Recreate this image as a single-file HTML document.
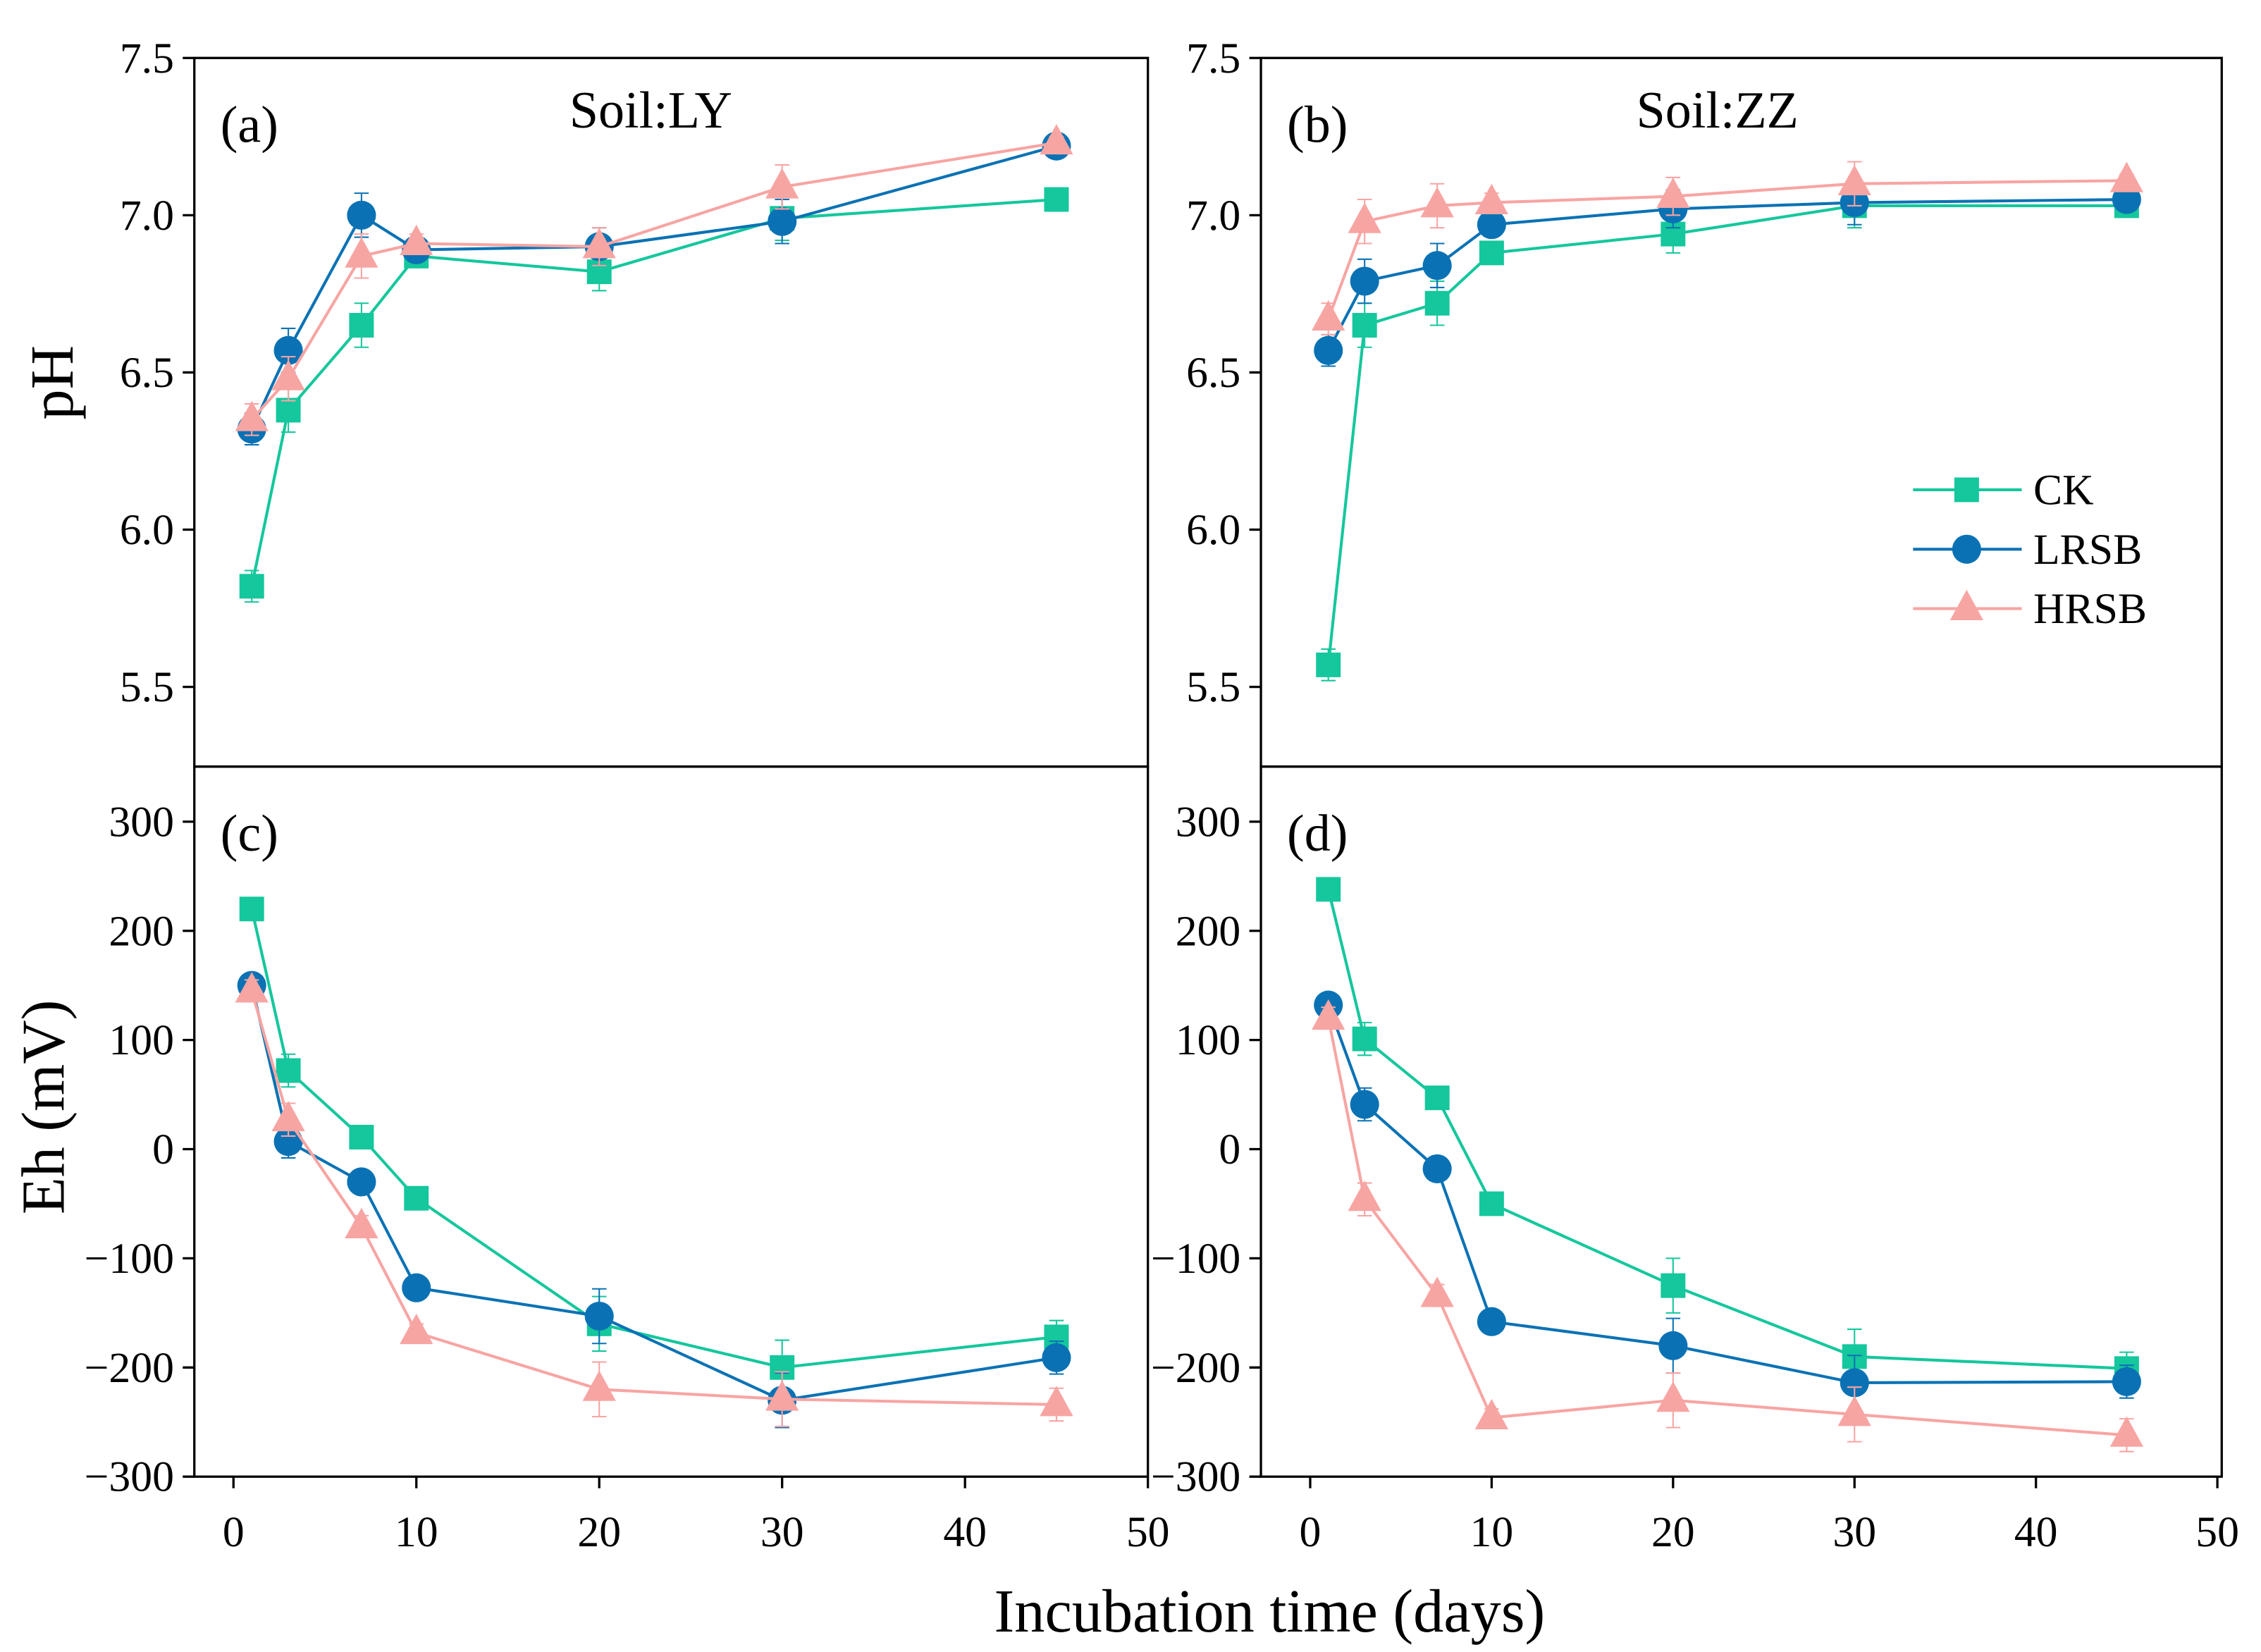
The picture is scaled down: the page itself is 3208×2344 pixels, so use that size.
<!DOCTYPE html>
<html><head><meta charset="utf-8"><style>
html,body{margin:0;padding:0;background:#fff;}
svg{display:block;font-family:"Liberation Serif",serif;}
</style></head><body>
<svg id="chart" width="3208" height="2344" viewBox="0 0 1560 1140" xmlns="http://www.w3.org/2000/svg"></svg>
<script>
const days = [1, 3, 7, 10, 20, 30, 45];
const seriesNames = ["CK", "LRSB", "HRSB"];
const phLY_CK = [5.82, 6.38, 6.65, 6.87, 6.82, 6.99, 7.05];
const phLY_LRSB = [6.32, 6.57, 7.00, 6.89, 6.90, 6.98, 7.22];
const phLY_HRSB = [6.35, 6.48, 6.87, 6.91, 6.90, 7.09, 7.23];
const phZZ_CK = [5.57, 6.65, 6.72, 6.88, 6.94, 7.03, 7.03];
const phZZ_LRSB = [6.57, 6.79, 6.84, 6.97, 7.02, 7.04, 7.05];
const phZZ_HRSB = [6.67, 6.98, 7.03, 7.04, 7.06, 7.10, 7.11];
const ehLY_CK = [220, 72, 11, -45, -160, -200, -172];
const ehLY_LRSB = [150, 7, -30, -127, -153, -230, -191];
const ehLY_HRSB = [145, 27, -71, -168, -220, -229, -234];
const ehZZ_CK = [238, 101, 47, -50, -125, -190, -201];
const ehZZ_LRSB = [132, 41, -18, -158, -180, -214, -213];
const ehZZ_HRSB = [120, -46, -134, -246, -230, -243, -262];
const phErr = [0.05, 0.07, 0.07, 0.03, 0.06, 0.07, 0.02];
const ehErr = [10, 15, 10, 8, 25, 25, 15];
const phTicks = [5.5, 6.0, 6.5, 7.0, 7.5];
const phTickLabels = ["5.5", "6.0", "6.5", "7.0", "7.5"];
const ehTicks = [-300, -200, -100, 0, 100, 200, 300];
const ehTickLabels = ["\u2212300", "\u2212200", "\u2212100", "0", "100", "200", "300"];
const xTicks = [0, 10, 20, 30, 40, 50];
const xTickLabels = ["0", "10", "20", "30", "40", "50"];

const NS = "http://www.w3.org/2000/svg";
const svg = document.getElementById("chart");
const colors = {CK: "#14c79c", LRSB: "#0a72b4", HRSB: "#f7a5a3"};
function mk(tag, attrs, parent) {
  const e = document.createElementNS(NS, tag);
  for (const k in attrs) e.setAttribute(k, attrs[k]);
  (parent || svg).appendChild(e);
  return e;
}
function marker(g, name, x, y) {
  let m;
  if (name === "CK") m = mk("rect", {x: x - 8.5, y: y - 8.5, width: 17, height: 17, fill: colors.CK}, g);
  else if (name === "LRSB") m = mk("circle", {cx: x, cy: y, r: 10, fill: colors.LRSB}, g);
  else m = mk("polygon", {points: `${x},${y - 13} ${x - 11.5},${y + 8} ${x + 11.5},${y + 8}`, fill: colors.HRSB}, g);
  
  
}
function panel(cfg) {
  const {L, R, T, B, x0, xs, yfn, series, errs, yTicks, yLabels, showX, label, title, pname} = cfg;
  const g = mk("g", {});
  
  
  const X = d => x0 + d * xs;
  const fr = mk("rect", {x: L, y: T, width: R - L, height: B - T, fill: "none", stroke: "#000", "stroke-width": 1.6}, g);
  
  
  yTicks.forEach((v, i) => {
    const y = yfn(v);
    mk("line", {x1: L - 8, x2: L, y1: y, y2: y, stroke: "#000", "stroke-width": 1.6}, g);
    const t = mk("text", {x: L - 14, y: y + 10, "text-anchor": "end", "font-size": 30}, g);
    t.textContent = yLabels[i];
    
    
  });
  if (showX) xTicks.forEach((v, i) => {
    const x = X(v);
    mk("line", {x1: x, x2: x, y1: B, y2: B + 8, stroke: "#000", "stroke-width": 1.6}, g);
    const t = mk("text", {x: x, y: B + 48, "text-anchor": "middle", "font-size": 30}, g);
    t.textContent = xTickLabels[i];
    
    
  });
  const lt = mk("text", {x: L + 18, y: T + 58, "font-size": 36}, g);
  lt.textContent = label;
  
  
  if (title) {
    const tt = mk("text", {x: L + 315, y: T + 48, "text-anchor": "middle", "font-size": 36}, g);
    tt.textContent = title;
    
    
  }
  series.forEach((vals, si) => {
    const name = seriesNames[si];
    const c = colors[name];
    const sg = mk("g", {}, g);
    
    
    const pts = vals.map((v, i) => X(days[i]) + "," + yfn(v)).join(" ");
    mk("polyline", {points: pts, fill: "none", stroke: c, "stroke-width": 2}, sg);
    vals.forEach((v, i) => {
      const x = X(days[i]);
      const y1 = yfn(v + errs[i]), y2 = yfn(v - errs[i]);
      mk("path", {d: `M${x},${y1}V${y2}M${x - 5},${y1}H${x + 5}M${x - 5},${y2}H${x + 5}`, stroke: c, "stroke-width": 1, fill: "none"}, sg);
    });
    vals.forEach((v, i) => marker(sg, name, X(days[i]), yfn(v)));
  });
}
const phY = v => 148.5 - (v - 7.0) * 217;
const ehY = v => 793 - v * 0.7533;
panel({pname: "panel-a", L: 134, R: 792, T: 40, B: 529, x0: 161, xs: 12.62, yfn: phY, series: [phLY_CK, phLY_LRSB, phLY_HRSB], errs: phErr, yTicks: phTicks, yLabels: phTickLabels, showX: false, label: "(a)", title: "Soil:LY"});
panel({pname: "panel-b", L: 870, R: 1533, T: 40, B: 529, x0: 904, xs: 12.52, yfn: phY, series: [phZZ_CK, phZZ_LRSB, phZZ_HRSB], errs: phErr, yTicks: phTicks, yLabels: phTickLabels, showX: false, label: "(b)", title: "Soil:ZZ"});
panel({pname: "panel-c", L: 134, R: 792, T: 529, B: 1019, x0: 161, xs: 12.62, yfn: ehY, series: [ehLY_CK, ehLY_LRSB, ehLY_HRSB], errs: ehErr, yTicks: ehTicks, yLabels: ehTickLabels, showX: true, label: "(c)"});
panel({pname: "panel-d", L: 870, R: 1533, T: 529, B: 1019, x0: 904, xs: 12.52, yfn: ehY, series: [ehZZ_CK, ehZZ_LRSB, ehZZ_HRSB], errs: ehErr, yTicks: ehTicks, yLabels: ehTickLabels, showX: true, label: "(d)"});

const lg = mk("g", {});


seriesNames.forEach((n, i) => {
  const y = 338 + i * 41;
  const eg = mk("g", {}, lg);
  
  
  mk("line", {x1: 1320, x2: 1395, y1: y, y2: y, stroke: colors[n], "stroke-width": 2}, eg);
  marker(eg, n, 1357, y);
  const t = mk("text", {x: 1403, y: y + 10, "font-size": 30}, eg);
  t.textContent = n;
});
const yt1 = mk("text", {x: 50, y: 264, "text-anchor": "middle", "font-size": 42, transform: "rotate(-90 50 264)"});
yt1.textContent = "pH";


const yt2 = mk("text", {x: 44, y: 764, "text-anchor": "middle", "font-size": 42, transform: "rotate(-90 44 764)"});
yt2.textContent = "Eh (mV)";


const xt = mk("text", {x: 876, y: 1126, "text-anchor": "middle", "font-size": 42});
xt.textContent = "Incubation time (days)";


</script>
</body></html>
